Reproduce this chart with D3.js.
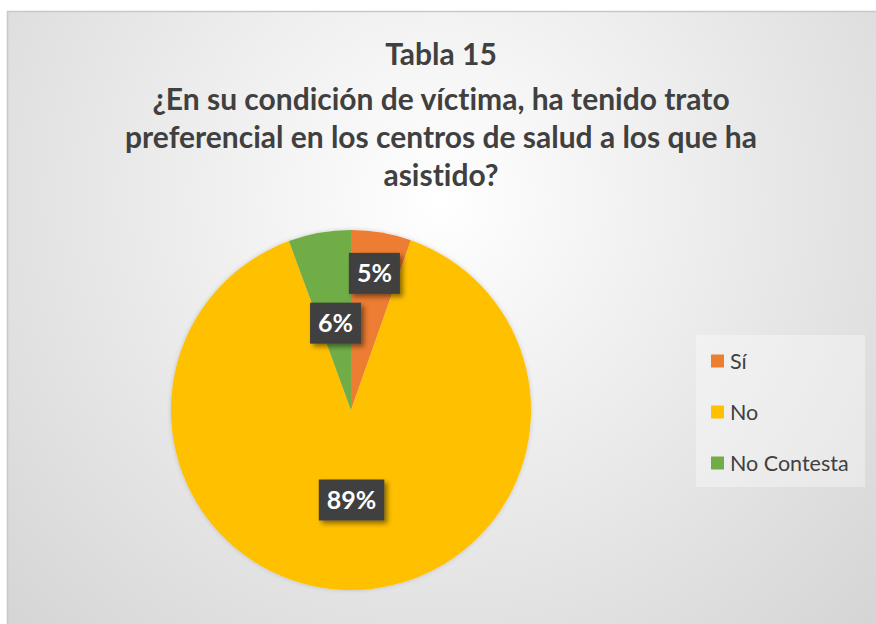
<!DOCTYPE html>
<html>
<head>
<meta charset="utf-8">
<script src="https://cdn.jsdelivr.net/npm/d3@7"></script>
<style>
  body { margin: 0; background: #fff; }
  svg { display: block; }
  text { font-variant-ligatures: none; }
</style>
</head>
<body>
<script>
(function () {

    var w = 876;
    var h = 624;

    // data
    var categories = ["Sí", "No", "No Contesta"];
    var values = [5.4, 89.0, 5.6];
    var labels = ["5%", "89%", "6%"];
    var colors = ["#ED7D31", "#FFC000", "#70AD47"];
    var titleLines = [
        "Tabla 15",
        "¿En su condición de víctima, ha tenido trato",
        "preferencial en los centros de salud a los que ha",
        "asistido?"
    ];

    var cx = 351, cy = 410, r = 180;
    var labelRadius = [0.77, 0.5, 0.49]; // where excel put each label
    var font = "Lato, 'Open Sans', sans-serif";

    var svg = d3.select("body").append("svg")
        .attr("width", w)
        .attr("height", h);

    var defs = svg.append("defs");
    var grad = defs.append("radialGradient")
        .attr("id", "bg")
        .attr("gradientUnits", "userSpaceOnUse")
        .attr("cx", 440).attr("cy", 200).attr("r", 620);
    grad.append("stop").attr("offset", "0").attr("stop-color", "#ffffff");
    grad.append("stop").attr("offset", "1").attr("stop-color", "#d4d4d4");

    var sh = defs.append("filter").attr("id", "shadow")
        .attr("x", "-20%").attr("y", "-20%").attr("width", "150%").attr("height", "160%");
    sh.append("feDropShadow")
        .attr("dx", 3).attr("dy", 3).attr("stdDeviation", 2.5)
        .attr("flood-color", "#000").attr("flood-opacity", 0.45);

    var psh = defs.append("filter").attr("id", "pieshadow")
        .attr("x", "-10%").attr("y", "-10%").attr("width", "120%").attr("height", "120%");
    psh.append("feDropShadow")
        .attr("dx", 0).attr("dy", 0).attr("stdDeviation", 2)
        .attr("flood-color", "#000").attr("flood-opacity", 0.18);

    // frame
    svg.append("rect")
        .attr("x", 7.5).attr("y", 11.5)
        .attr("width", w).attr("height", h)
        .attr("fill", "url(#bg)")
        .attr("stroke", "#c8c8c8")
        .attr("stroke-width", 1.5);

    // title
    var baselines = [65, 110, 148, 186];
    var title = svg.append("g");
    title.selectAll("text")
        .data(titleLines)
        .enter()
        .append("text")
        .text(function (d) { return d; })
        .attr("x", 441)
        .attr("y", function (d, i) { return baselines[i]; })
        .attr("text-anchor", "middle")
        .attr("font-family", font)
        .attr("font-weight", "bold")
        .attr("font-size", 26)
        .attr("fill", "#404040");
    // fit widest line to the reference width
    var wide = title.selectAll("text").nodes()[2].getComputedTextLength();
    title.selectAll("text").attr("font-size", 26 * 632 / wide);

    // pie
    var pie = d3.pie().sort(null).value(function (d) { return d; });
    var arcs = pie(values);
    var arc = d3.arc().innerRadius(0).outerRadius(r);

    var g = svg.append("g").attr("transform", "translate(" + cx + "," + cy + ")");
    g.append("g").attr("filter", "url(#pieshadow)")
        .selectAll("path")
        .data(arcs)
        .enter()
        .append("path")
        .attr("d", arc)
        .attr("fill", function (d, i) { return colors[i]; });

    // labels
    var lab = g.selectAll("g.lab")
        .data(arcs)
        .enter()
        .append("g")
        .attr("class", "lab")
        .attr("transform", function (d, i) {
            var rr = r * labelRadius[i];
            var c = d3.arc().innerRadius(rr).outerRadius(rr).centroid(d);
            return "translate(" + c[0] + "," + c[1] + ")";
        });
    lab.append("text")
        .text(function (d, i) { return labels[i]; })
        .attr("text-anchor", "middle")
        .attr("dy", "0.36em")
        .attr("font-family", font)
        .attr("font-weight", "bold")
        .attr("font-size", 25)
        .attr("fill", "#ffffff");
    lab.each(function () {
        var t = d3.select(this).select("text");
        var bw = t.node().getComputedTextLength() + 16;
        d3.select(this).insert("rect", "text")
            .attr("x", -bw / 2).attr("y", -20.5)
            .attr("width", bw).attr("height", 41)
            .attr("fill", "#404040")
            .attr("filter", "url(#shadow)");
    });

    // legend
    var legend = svg.append("g");
    legend.append("rect")
        .attr("x", 696).attr("y", 335)
        .attr("width", 169).attr("height", 152)
        .attr("fill", "#ffffff").attr("fill-opacity", 0.35);
    var rowY = d3.scalePoint().domain(categories).range([361, 463]);
    var item = legend.selectAll("g.item")
        .data(categories)
        .enter()
        .append("g")
        .attr("class", "item")
        .attr("transform", function (d) { return "translate(711," + rowY(d) + ")"; });
    item.append("rect")
        .attr("x", 0).attr("y", -6.5)
        .attr("width", 13).attr("height", 13)
        .attr("fill", function (d, i) { return colors[i]; });
    item.append("text")
        .text(function (d) { return d; })
        .attr("x", 19)
        .attr("dy", "0.36em")
        .attr("font-family", font)
        .attr("font-size", 21.5)
        .attr("fill", "#404040");
})();
</script>
</body>
</html>
